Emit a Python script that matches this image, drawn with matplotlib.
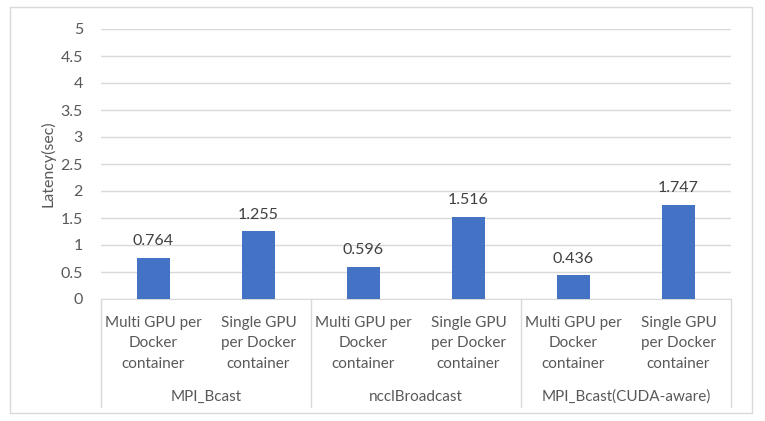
import numpy as np
import matplotlib
matplotlib.use('Agg')
import matplotlib.pyplot as plt
import matplotlib.transforms as transforms
from matplotlib.patches import Rectangle

plt.rcParams['font.family'] = ['Lato', 'DejaVu Sans']

# data
groups = ['MPI_Bcast', 'ncclBroadcast', 'MPI_Bcast(CUDA-aware)']
cats = ['Multi GPU per\nDocker\ncontainer', 'Single GPU\nper Docker\ncontainer']
latency = [0.764, 1.255, 0.596, 1.516, 0.436, 1.747]
ylabels = ['0', '0.5', '1', '1.5', '2', '2.5', '3', '3.5', '4', '4.5', '5']

txt = '#595959'
bar_c = '#4472C4'
grid_c = '#D9D9D9'
fs = 11.5

fig = plt.figure(figsize=(7.65, 4.21), dpi=100)
ax = fig.add_axes([101/765, 1 - 299/421, 630/765, 270/421])

# outer chart border
fig.patches.append(Rectangle((10/765, 1 - 413/421), 742/765, 406/421,
                             transform=fig.transFigure, fill=False,
                             edgecolor=grid_c, linewidth=1))

x = np.arange(len(latency))
ax.bar(x, latency, 0.32, color=bar_c, zorder=3)

# bar value labels
for i, v in enumerate(latency):
    ax.annotate('%s' % v, (i, v), xytext=(0, 7), textcoords='offset points',
                ha='center', va='bottom', fontsize=fs, color='#404040')

ax.set_xlim(-0.5, len(latency) - 0.5)
ax.set_ylim(0, 5)
ax.set_yticks(np.arange(0, 5.01, 0.5))
ax.set_yticklabels(ylabels)
ax.grid(axis='y', color=grid_c, linewidth=1, zorder=0)
ax.set_axisbelow(True)
for s in ['top', 'right', 'left']:
    ax.spines[s].set_visible(False)
ax.spines['bottom'].set_color(grid_c)
ax.tick_params(axis='y', length=0, labelsize=fs, labelcolor=txt, pad=13)
ax.set_ylabel('Latency(sec)', fontsize=fs, color=txt, labelpad=4)

# inner category labels
ax.set_xticks(x)
ax.set_xticklabels(cats * len(groups), fontsize=11, color=txt, linespacing=1.6)
ax.tick_params(axis='x', length=0, pad=12)

# group labels and separators
trans = transforms.blended_transform_factory(ax.transData, ax.transAxes)
n = len(cats)
for g, name in enumerate(groups):
    ax.text(g * n + (n - 1) / 2, -0.363, name, transform=trans, ha='center',
            va='center', fontsize=11, color=txt)
for b in range(len(groups) + 1):
    xb = b * n - 0.5
    ax.plot([xb, xb], [0, -0.40], transform=trans, color=grid_c,
            linewidth=1, clip_on=False)

fig.savefig('out.png', dpi=100)
